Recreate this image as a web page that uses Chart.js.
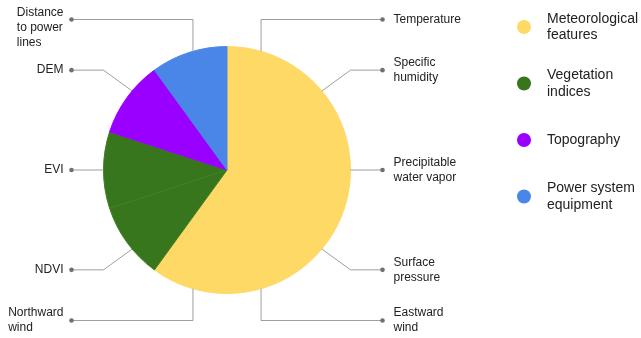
<!DOCTYPE html>
<html>
<head>
<meta charset="utf-8">
<script src="https://cdn.jsdelivr.net/npm/chart.js@4"></script>
<style>
html,body{margin:0;padding:0;background:#fff;}
#wrap{width:641px;height:338px;position:relative;}
</style>
</head>
<body>
<div id="wrap"><canvas id="c" width="641" height="338"></canvas></div>
<script>
// ---- data ----
const categories = ['Temperature','Specific humidity','Precipitable water vapor','Surface pressure','Eastward wind','Northward wind','NDVI','EVI','DEM','Distance to power lines'];
const shares = [10,10,10,10,10,10,10,10,10,10];
const sliceGroup = [0,0,0,0,0,0,1,1,2,3];
const groupNames = ['Meteorological features','Vegetation indices','Topography','Power system equipment'];
const groupColors = ['#ffd966','#38761d','#9900ff','#4a86e8'];

const FONT = '"Liberation Sans", Arial, sans-serif';
const TEXT = '#222222';

function wrap(ctx, text, maxW){
  const words = text.split(' ');
  const lines = [];
  let cur = '';
  for (const w of words){
    const t = cur ? cur + ' ' + w : w;
    if (cur && ctx.measureText(t).width > maxW){ lines.push(cur); cur = w; }
    else cur = t;
  }
  if (cur) lines.push(cur);
  return lines;
}

const leaderPlugin = {
  id: 'leaders',
  afterDraw(chart){
    const ctx = chart.ctx;
    const meta = chart.getDatasetMeta(0);
    ctx.save();
    ctx.font = '12px ' + FONT;
    meta.data.forEach((arc, i) => {
      const p = arc.getProps(['x','y','startAngle','endAngle','outerRadius'], true);
      const cx = p.x, cy = p.y, r = p.outerRadius;
      const mid = (p.startAngle + p.endAngle) / 2;
      const th = mid + Math.PI/2; // clockwise from top
      const s = Math.sin(th), c = Math.cos(th);
      const side = s >= 0 ? 1 : -1;
      const sc = Math.abs(c) < 1e-6 ? 0 : Math.sign(c);
      const pts = [];
      let dotY;
      if (Math.abs(c) > 0.9){
        const ths = th - side*sc*(2*Math.PI/180);
        const sx = cx + r*Math.sin(ths), sy = cy - r*Math.cos(ths);
        dotY = cy - sc*(r + 27);
        pts.push([sx, sy], [sx, dotY]);
      } else {
        const pull = 4*Math.PI/180*Math.abs(Math.sin(2*th));
        const ths = th - side*sc*pull;
        const sx = cx + r*Math.sin(ths), sy = cy - r*Math.cos(ths);
        const ex = cx + side*r;
        const t = (ex - sx)/s;
        dotY = sy - t*c;
        pts.push([sx, sy], [ex, dotY]);
      }
      const dotX = cx + side*(r + 32);
      pts.push([dotX, dotY]);
      ctx.strokeStyle = '#9e9e9e';
      ctx.lineWidth = 1;
      ctx.beginPath();
      ctx.moveTo(pts[0][0], pts[0][1]);
      for (let k=1;k<pts.length;k++) ctx.lineTo(pts[k][0], pts[k][1]);
      ctx.stroke();
      ctx.fillStyle = '#707070';
      ctx.beginPath();
      ctx.arc(dotX, dotY, 2.3, 0, Math.PI*2);
      ctx.fill();
      // label
      const lines = wrap(ctx, categories[i], side > 0 ? 70 : 55);
      const lh = 14.8;
      let y0 = dotY - (lines.length-1)*lh/2;
      if (y0 < 13) y0 = 13;
      if (y0 + (lines.length-1)*lh > chart.height - 9) y0 = chart.height - 9 - (lines.length-1)*lh;
      ctx.fillStyle = TEXT;
      ctx.textBaseline = 'middle';
      ctx.textAlign = 'left';
      const blockW = Math.max(...lines.map(l => ctx.measureText(l).width));
      const tx = side > 0 ? dotX + 11 : dotX - 8 - blockW;
      lines.forEach((ln, k) => ctx.fillText(ln, tx, y0 + k*lh));
    });
    // legend
    ctx.font = '14px ' + FONT;
    const lx = 524, ltop = 27, step = 56.5, lh = 16.5;
    groupNames.forEach((g, k) => {
      const cyL = ltop + k*step;
      ctx.fillStyle = groupColors[k];
      ctx.beginPath();
      ctx.arc(lx, cyL, 7, 0, Math.PI*2);
      ctx.fill();
      const lines = wrap(ctx, g, 95);
      const y0 = cyL - (lines.length-1)*lh/2;
      ctx.fillStyle = TEXT;
      ctx.textAlign = 'left';
      ctx.textBaseline = 'middle';
      lines.forEach((ln, j) => ctx.fillText(ln, 547, y0 + j*lh));
    });
    ctx.restore();
  }
};

new Chart(document.getElementById('c'), {
  type: 'pie',
  data: {
    labels: categories,
    datasets: [{
      data: shares,
      backgroundColor: sliceGroup.map(g => groupColors[g]),
      borderColor: sliceGroup.map(g => g === 1 ? '#3f7f25' : groupColors[g]),
      borderWidth: 1
    }]
  },
  options: {
    responsive: false,
    animation: false,
    layout: { padding: { left: 103, right: 290, top: 46, bottom: 44 } },
    plugins: { legend: { display: false }, tooltip: { enabled: false } }
  },
  plugins: [leaderPlugin]
});
</script>
</body>
</html>
